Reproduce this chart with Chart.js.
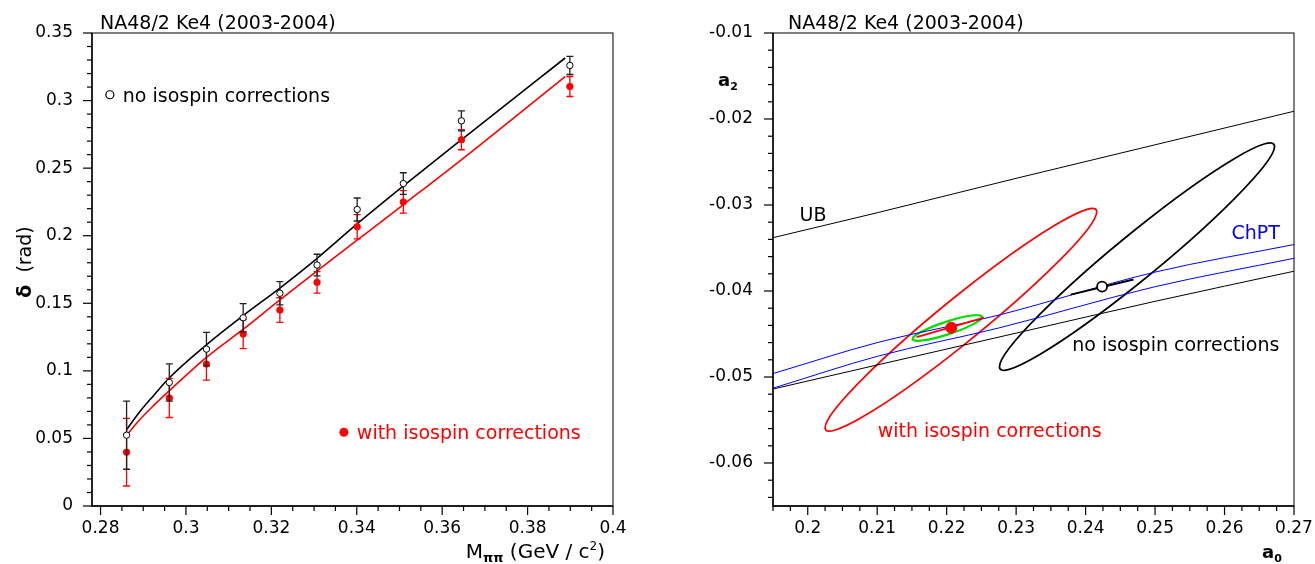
<!DOCTYPE html>
<html>
<head>
<meta charset="utf-8">
<script src="https://cdn.jsdelivr.net/npm/chart.js@4.4.1/dist/chart.umd.min.js"></script>
<style>
  body { margin: 0; background: #fff; }
  .panel { position: absolute; top: 0; height: 564px; }
</style>
</head>
<body>
<div class="panel" style="left:0;width:657px"><canvas id="phaseChart" width="657" height="564"></canvas></div>
<div class="panel" style="left:657px;width:658px"><canvas id="lengthChart" width="658" height="564"></canvas></div>
<script>
// ---- left panel: phase shift vs M_pipi ----
var massBins   = [0.2861, 0.2961, 0.3048, 0.3134, 0.3220, 0.3307, 0.3401, 0.3509, 0.3645, 0.3899];
var deltaNoIso = [0.0524, 0.0914, 0.1161, 0.1393, 0.1574, 0.1783, 0.2194, 0.2386, 0.2850, 0.3260];
var errNoIso   = [0.0252, 0.0138, 0.0124, 0.0104, 0.0086, 0.0080, 0.0085, 0.0080, 0.0074, 0.0067];
var deltaIso   = [0.0398, 0.0800, 0.1050, 0.1272, 0.1450, 0.1655, 0.2066, 0.2250, 0.2710, 0.3104];
var errIso     = [0.0250, 0.0145, 0.0119, 0.0107, 0.0091, 0.0080, 0.0090, 0.0083, 0.0074, 0.0074];

var fitMass  = [0.2861, 0.2890, 0.2925, 0.2960, 0.3048, 0.3135, 0.3220, 0.3308, 0.3400, 0.3510, 0.3650, 0.3888];
var fitNoIso = [0.0565, 0.0690, 0.0820, 0.0945, 0.1193, 0.1411, 0.1613, 0.1835, 0.2085, 0.2370, 0.2723, 0.3315];
var fitIso   = [0.0524, 0.0633, 0.0746, 0.0850, 0.1100, 0.1310, 0.1525, 0.1742, 0.1965, 0.2232, 0.2575, 0.3178];

var massTicks  = [0.28, 0.3, 0.32, 0.34, 0.36, 0.38, 0.4];
var deltaTicks = [0, 0.05, 0.1, 0.15, 0.2, 0.25, 0.3, 0.35];

// ---- right panel: a0 / a2 plane ----
var boundA0   = [0.1950, 0.2100, 0.2300, 0.2500, 0.2700];
var ubA2      = [-0.0338, -0.0309, -0.0269, -0.0230, -0.0191];
var lowA2     = [-0.0514, -0.0486, -0.0449, -0.0412, -0.0377];
var chptA0    = [0.1950, 0.2100, 0.2275, 0.2500, 0.2700];
var chptHigh  = [-0.0496, -0.0460, -0.0428, -0.0378, -0.0346];
var chptLow   = [-0.0513, -0.0476, -0.0443, -0.0395, -0.0362];

// 1-parameter fits along the ChPT band: point and its error segment
var isoPoint   = [0.22066, -0.04427];
var isoSeg     = [[0.21567, -0.04536], [0.22537, -0.04310]];
var noIsoPoint = [0.24237, -0.03950];
var noIsoSeg   = [[0.23785, -0.04042], [0.24689, -0.03866]];

// 68% contours: centre, offset to rightmost point, vertical half chord
var contourCentre = [[0.22205, -0.04335], [0.24740, -0.03600], [0.22010, -0.04430]];
var contourMajor  = [[0.01955, 0.01255], [0.01980, 0.01280], [0.00500, 0.00128]];
var contourMinor  = [[0, 0.00320], [0, 0.00330], [0, 0.00077]];
var contourColor  = ['#ff0000', '#000000', '#00dd00'];
var contourWidth  = [1.7, 1.7, 2.2];

var a0Ticks = [0.2, 0.21, 0.22, 0.23, 0.24, 0.25, 0.26, 0.27];
var a2Ticks = [-0.06, -0.05, -0.04, -0.03, -0.02, -0.01];

Chart.defaults.font.family = "'DejaVu Sans', 'Liberation Sans', sans-serif";
Chart.defaults.color = '#000';
Chart.defaults.animation = false;

function pairs(xs, ys) {
    return xs.map(function (x, i) { return { x: x, y: ys[i] }; });
}
function fmt(v) {
    return String(parseFloat(v.toFixed(4)));
}

// box, axes and ROOT style major/minor ticks
function framePlugin(xMinor, xRatio, yMinor, yRatio) {
    return {
        id: 'rootFrame',
        afterDraw: function (chart) {
            var ctx = chart.ctx, a = chart.chartArea;
            var xs = chart.scales.x, ys = chart.scales.y;
            ctx.save();
            ctx.strokeStyle = '#000';
            ctx.lineWidth = 1;
            ctx.strokeRect(a.left, a.top, a.right - a.left, a.bottom - a.top);
            ctx.lineWidth = 1.4;
            ctx.beginPath();
            ctx.moveTo(a.left, a.top); ctx.lineTo(a.left, a.bottom); ctx.lineTo(a.right, a.bottom);
            ctx.stroke();
            ctx.lineWidth = 1.2;
            var n, p, len;
            for (n = Math.ceil(xs.min / xMinor - 1e-6); n <= Math.floor(xs.max / xMinor + 1e-6); n++) {
                p = xs.getPixelForValue(n * xMinor);
                len = (((n % xRatio) + xRatio) % xRatio === 0) ? 9 : 5;
                ctx.beginPath(); ctx.moveTo(p, a.bottom); ctx.lineTo(p, a.bottom + len); ctx.stroke();
            }
            for (n = Math.ceil(ys.min / yMinor - 1e-6); n <= Math.floor(ys.max / yMinor + 1e-6); n++) {
                p = ys.getPixelForValue(n * yMinor);
                len = (((n % yRatio) + yRatio) % yRatio === 0) ? 9 : 5;
                ctx.beginPath(); ctx.moveTo(a.left - len, p); ctx.lineTo(a.left, p); ctx.stroke();
            }
            ctx.restore();
        }
    };
}

var errorBarPlugin = {
    id: 'errorBars',
    beforeDatasetDraw: function (chart, args) {
        var ds = chart.data.datasets[args.index];
        if (!ds.errors) return;
        var ctx = chart.ctx, ys = chart.scales.y;
        ctx.save();
        ctx.strokeStyle = ds.errorColor;
        ctx.lineWidth = 1.3;
        args.meta.data.forEach(function (pt, i) {
            var top = ys.getPixelForValue(ds.data[i].y + ds.errors[i]);
            var bot = ys.getPixelForValue(ds.data[i].y - ds.errors[i]);
            ctx.beginPath();
            ctx.moveTo(pt.x, top); ctx.lineTo(pt.x, bot);
            ctx.moveTo(pt.x - 3.5, top); ctx.lineTo(pt.x + 3.5, top);
            ctx.moveTo(pt.x - 3.5, bot); ctx.lineTo(pt.x + 3.5, bot);
            ctx.stroke();
        });
        ctx.restore();
    }
};

// rich text: parts = [text, size, dy, bold]
function drawRich(ctx, parts, x, y, align, color) {
    var total = 0;
    parts.forEach(function (p) {
        ctx.font = (p[3] ? 'bold ' : '') + p[1] + "px 'DejaVu Sans', sans-serif";
        total += ctx.measureText(p[0]).width;
    });
    var cx = align === 'right' ? x - total : (align === 'center' ? x - total / 2 : x);
    ctx.fillStyle = color;
    ctx.textBaseline = 'alphabetic';
    ctx.textAlign = 'left';
    parts.forEach(function (p) {
        ctx.font = (p[3] ? 'bold ' : '') + p[1] + "px 'DejaVu Sans', sans-serif";
        ctx.fillText(p[0], cx, y + (p[2] || 0));
        cx += ctx.measureText(p[0]).width;
    });
}

// texts: {parts, x, y, data, align, color, rotate, marker}
function textPlugin(items) {
    return {
        id: 'texts',
        afterDatasetsDraw: function (chart) {
            var ctx = chart.ctx, xs = chart.scales.x, ys = chart.scales.y;
            items.forEach(function (it) {
                var px = it.data ? xs.getPixelForValue(it.x) : it.x;
                var py = it.data ? ys.getPixelForValue(it.y) : it.y;
                ctx.save();
                if (it.marker) {
                    ctx.beginPath();
                    ctx.arc(px, py, it.marker.r, 0, 2 * Math.PI);
                    if (it.marker.fill) { ctx.fillStyle = it.color; ctx.fill(); }
                    else { ctx.strokeStyle = it.color; ctx.lineWidth = 1.2; ctx.stroke(); }
                } else if (it.rotate) {
                    ctx.translate(px, py);
                    ctx.rotate(-Math.PI / 2);
                    drawRich(ctx, it.parts, 0, 0, 'center', it.color);
                } else {
                    drawRich(ctx, it.parts, px, py, it.align, it.color);
                }
                ctx.restore();
            });
        }
    };
}

function contourPlugin() {
    return {
        id: 'contours',
        beforeDatasetsDraw: function (chart) {
            var ctx = chart.ctx, xs = chart.scales.x, ys = chart.scales.y, a = chart.chartArea;
            ctx.save();
            ctx.beginPath();
            ctx.rect(a.left, a.top, a.right - a.left, a.bottom - a.top);
            ctx.clip();
            contourCentre.forEach(function (c, i) {
                var u = contourMajor[i], v = contourMinor[i];
                var cx = xs.getPixelForValue(c[0]), cy = ys.getPixelForValue(c[1]);
                var ux = xs.getPixelForValue(c[0] + u[0]) - cx, uy = ys.getPixelForValue(c[1] + u[1]) - cy;
                var vx = xs.getPixelForValue(c[0] + v[0]) - cx, vy = ys.getPixelForValue(c[1] + v[1]) - cy;
                ctx.save();
                ctx.transform(ux, uy, vx, vy, cx, cy);
                ctx.beginPath();
                ctx.arc(0, 0, 1, 0, 2 * Math.PI);
                ctx.restore();
                ctx.strokeStyle = contourColor[i];
                ctx.lineWidth = contourWidth[i];
                ctx.stroke();
            });
            ctx.restore();
        }
    };
}

function axisOptions(min, max, ticks, pad, size, isX) {
    return {
        type: 'linear',
        min: min,
        max: max,
        afterBuildTicks: function (scale) { scale.ticks = ticks.map(function (v) { return { value: v }; }); },
        afterFit: function (scale) {
            if (isX) { scale.height = size; } else { scale.width = size; }
            scale.paddingLeft = scale.paddingRight = scale.paddingTop = scale.paddingBottom = 0;
        },
        grid: { display: false, drawTicks: false },
        border: { display: false },
        ticks: {
            autoSkip: false,
            maxRotation: 0,
            padding: pad,
            font: { size: 17 },
            color: '#000',
            callback: function (v) { return fmt(v); }
        }
    };
}

var phaseChart = new Chart(document.getElementById('phaseChart'), {
    type: 'scatter',
    data: {
        datasets: [
            {
                data: pairs(massBins, deltaNoIso), errors: errNoIso, errorColor: '#222',
                pointRadius: 3.2, pointBackgroundColor: '#fff', pointBorderColor: '#000', pointBorderWidth: 1,
                order: 0
            },
            {
                data: pairs(massBins, deltaIso), errors: errIso, errorColor: '#ff0000',
                pointRadius: 3.2, pointBackgroundColor: '#ff0000', pointBorderColor: '#ff0000', pointBorderWidth: 1,
                order: 1
            },
            {
                data: pairs(fitMass, fitNoIso), showLine: true, pointRadius: 0, borderColor: '#000',
                borderWidth: 1.6, cubicInterpolationMode: 'monotone', order: 2
            },
            {
                data: pairs(fitMass, fitIso), showLine: true, pointRadius: 0, borderColor: '#ff0000',
                borderWidth: 1.6, cubicInterpolationMode: 'monotone', order: 3
            }
        ]
    },
    options: {
        responsive: false,
        layout: { padding: { left: 0, right: 44, top: 33, bottom: 0 } },
        scales: {
            x: axisOptions(0.278, 0.4, massTicks, 12, 58, true),
            y: axisOptions(0, 0.35, deltaTicks, 19, 92, false)
        },
        plugins: { legend: { display: false }, tooltip: { enabled: false } }
    },
    plugins: [
        errorBarPlugin,
        framePlugin(0.005, 4, 0.01, 5),
        textPlugin([
            { parts: [['NA48/2 Ke4 (2003-2004)', 19]], x: 100, y: 29, color: '#000' },
            { marker: { r: 4, fill: false }, data: true, x: 0.28218, y: 0.3043, color: '#000' },
            { parts: [['no isospin corrections', 19]], data: true, x: 0.28522, y: 0.2990, color: '#000' },
            { marker: { r: 4.5, fill: true }, data: true, x: 0.33698, y: 0.0546, color: '#ff0000' },
            { parts: [['with isospin corrections', 19]], data: true, x: 0.34002, y: 0.0493, color: '#ff0000' },
            { parts: [['\u03b4', 19, 0, true], ['  (rad)', 19]], rotate: true, x: 31, y: 262, color: '#000' },
            { parts: [['M', 20], ['\u03c0\u03c0', 13, 4, true], [' (GeV / c', 20], ['2', 12, -8], [')', 20]],
              x: 605, y: 558, align: 'right', color: '#000' }
        ])
    ]
});

var lengthChart = new Chart(document.getElementById('lengthChart'), {
    type: 'scatter',
    data: {
        datasets: [
            {
                data: [{ x: isoPoint[0], y: isoPoint[1] }], pointRadius: 5.5,
                pointBackgroundColor: '#ff0000', pointBorderColor: '#ff0000', order: 0
            },
            {
                data: [{ x: noIsoPoint[0], y: noIsoPoint[1] }], pointRadius: 5,
                pointBackgroundColor: '#fff', pointBorderColor: '#000', pointBorderWidth: 1.8, order: 1
            },
            {
                data: [{ x: isoSeg[0][0], y: isoSeg[0][1] }, { x: isoSeg[1][0], y: isoSeg[1][1] }],
                showLine: true, pointRadius: 0, borderColor: '#ff0000', borderWidth: 2, order: 2
            },
            {
                data: [{ x: noIsoSeg[0][0], y: noIsoSeg[0][1] }, { x: noIsoSeg[1][0], y: noIsoSeg[1][1] }],
                showLine: true, pointRadius: 0, borderColor: '#000', borderWidth: 2, order: 3
            },
            {
                data: pairs(chptA0, chptHigh), showLine: true, pointRadius: 0, borderColor: '#0000ff',
                borderWidth: 1, cubicInterpolationMode: 'monotone', order: 4
            },
            {
                data: pairs(chptA0, chptLow), showLine: true, pointRadius: 0, borderColor: '#0000ff',
                borderWidth: 1, cubicInterpolationMode: 'monotone', order: 5
            },
            {
                data: pairs(boundA0, ubA2), showLine: true, pointRadius: 0, borderColor: '#000',
                borderWidth: 1, order: 6
            },
            {
                data: pairs(boundA0, lowA2), showLine: true, pointRadius: 0, borderColor: '#000',
                borderWidth: 1, cubicInterpolationMode: 'monotone', order: 7
            }
        ]
    },
    options: {
        responsive: false,
        layout: { padding: { left: 0, right: 21, top: 33, bottom: 0 } },
        scales: {
            x: axisOptions(0.195, 0.27, a0Ticks, 12, 58, true),
            y: axisOptions(-0.065, -0.01, a2Ticks, 20, 116, false)
        },
        plugins: { legend: { display: false }, tooltip: { enabled: false } }
    },
    plugins: [
        contourPlugin(),
        framePlugin(0.0025, 4, 0.002, 5),
        textPlugin([
            { parts: [['NA48/2 Ke4 (2003-2004)', 19]], x: 131, y: 29, color: '#000' },
            { parts: [['UB', 19]], data: true, x: 0.19882, y: -0.03190, color: '#000' },
            { parts: [['ChPT', 19]], data: true, x: 0.26101, y: -0.03400, color: '#0000ff' },
            { parts: [['no isospin corrections', 19]], data: true, x: 0.23807, y: -0.04700, color: '#000' },
            { parts: [['with isospin corrections', 19]], data: true, x: 0.21007, y: -0.05700, color: '#ff0000' },
            { parts: [['a', 18, 0, true], ['2', 11, 4, true]], x: 61, y: 86, color: '#000' },
            { parts: [['a', 18, 0, true], ['0', 11, 4, true]], x: 605, y: 558, color: '#000' }
        ])
    ]
});
</script>
</body>
</html>
